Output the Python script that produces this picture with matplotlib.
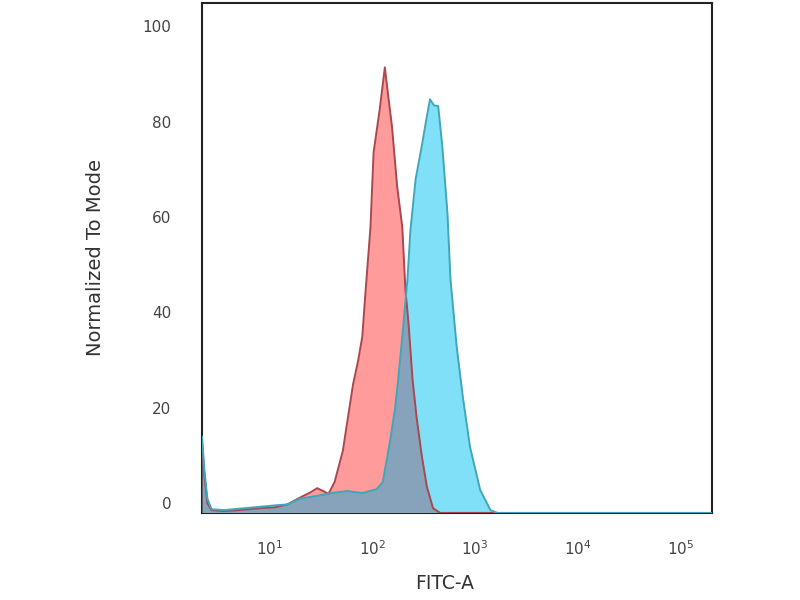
import numpy as np
import matplotlib
matplotlib.use("Agg")
import matplotlib.pyplot as plt
import matplotlib.transforms as mtransforms
from matplotlib.ticker import FixedLocator, NullLocator

# histogram outlines, x given as log10(FITC-A), y as % of mode
red_log = [0.337, 0.36, 0.39, 0.43, 0.55, 0.70, 0.90, 1.05, 1.17, 1.29, 1.40, 1.46,
           1.52, 1.57, 1.63, 1.71, 1.76, 1.81, 1.86, 1.90, 1.93, 1.98, 2.01, 2.07,
           2.12, 2.15, 2.19, 2.24, 2.29, 2.32, 2.35, 2.39, 2.43, 2.48, 2.53, 2.59,
           2.66, 5.31]
red_val = [15, 8, 2, 0.6, 0.4, 0.6, 1.0, 1.2, 1.8, 3.2, 4.4, 5.2,
           4.6, 4.0, 6.5, 13, 20, 27, 32, 37, 46, 60, 75.6, 84.7,
           93.5, 88, 81, 68.5, 60, 47, 40, 28, 20, 12, 5.5, 1,
           0, 0]

blue_log = [0.337, 0.36, 0.39, 0.43, 0.55, 0.70, 0.90, 1.05, 1.17, 1.29, 1.46, 1.60,
            1.75, 1.90, 2.04, 2.10, 2.17, 2.22, 2.25, 2.29, 2.34, 2.37, 2.42, 2.48,
            2.52, 2.56, 2.60, 2.64, 2.68, 2.73, 2.76, 2.82, 2.88, 2.95, 3.05, 3.15,
            3.22, 5.31]
blue_val = [16, 9, 3, 0.8, 0.6, 0.9, 1.3, 1.6, 1.8, 3.0, 3.6, 4.2,
            4.6, 4.2, 5.0, 6.5, 15, 22, 28, 37, 49, 59.5, 70, 77,
            82, 86.8, 85.5, 85.4, 77, 63, 49, 35, 24.4, 13.9, 4.8, 0.6,
            0, 0]

x_ticks = [1e1, 1e2, 1e3, 1e4, 1e5]
x_ticklabels = [r"$10^1$", r"$10^2$", r"$10^3$", r"$10^4$", r"$10^5$"]
y_ticks = [0, 20, 40, 60, 80, 100]

red_x = 10 ** np.array(red_log)
blue_x = 10 ** np.array(blue_log)

fig = plt.figure(figsize=(8, 6), dpi=100)
ax = fig.add_axes([0.2525, 0.145, 0.6375, 0.85])
ax.set_xscale("log")

red_fill = ax.fill_between(red_x, red_val, 0, color="#ff9b9b", lw=0, zorder=1)
blue_fill = ax.fill_between(blue_x, blue_val, 0, color="#80e0f7", lw=0, zorder=2)

# where both histograms overlap the colour turns grey-blue
overlap = ax.fill_between(red_x, red_val, 0, color="#86a3bb", lw=0, zorder=3)
overlap.set_clip_path(blue_fill.get_paths()[0], ax.transData)

ax.plot(red_x, red_val, color="#a8484f", lw=1.4, zorder=4)
ax.plot(blue_x, blue_val, color="#3fa7b8", lw=1.4, zorder=4)

ax.set_xlim(10 ** 0.337, 10 ** 5.31)
ax.set_ylim(0, 107)

ax.xaxis.set_major_locator(FixedLocator(x_ticks))
ax.xaxis.set_minor_locator(NullLocator())
ax.set_xticklabels(x_ticklabels)
ax.set_yticks(y_ticks)
ax.tick_params(length=0, labelsize=11, labelcolor="#444444")
ax.tick_params(axis="x", pad=19)
ax.tick_params(axis="y", pad=22)

# labels sit a bit above their tick positions, as in the original software
shift = mtransforms.ScaledTranslation(0, 10 / 100, fig.dpi_scale_trans)
for lbl in ax.get_yticklabels():
    lbl.set_transform(lbl.get_transform() + shift)

for side in ["left", "right", "top", "bottom"]:
    ax.spines[side].set_color("#222222")
    ax.spines[side].set_linewidth(1.5)

ax.set_ylabel("Normalized To Mode", fontsize=14, color="#333333")
ax.set_xlabel("FITC-A", fontsize=13.5, color="#333333")
ax.yaxis.set_label_coords(-0.19, 0.5)
ax.xaxis.set_label_coords(0.476, -0.12)

fig.savefig("out.png", dpi=100)
